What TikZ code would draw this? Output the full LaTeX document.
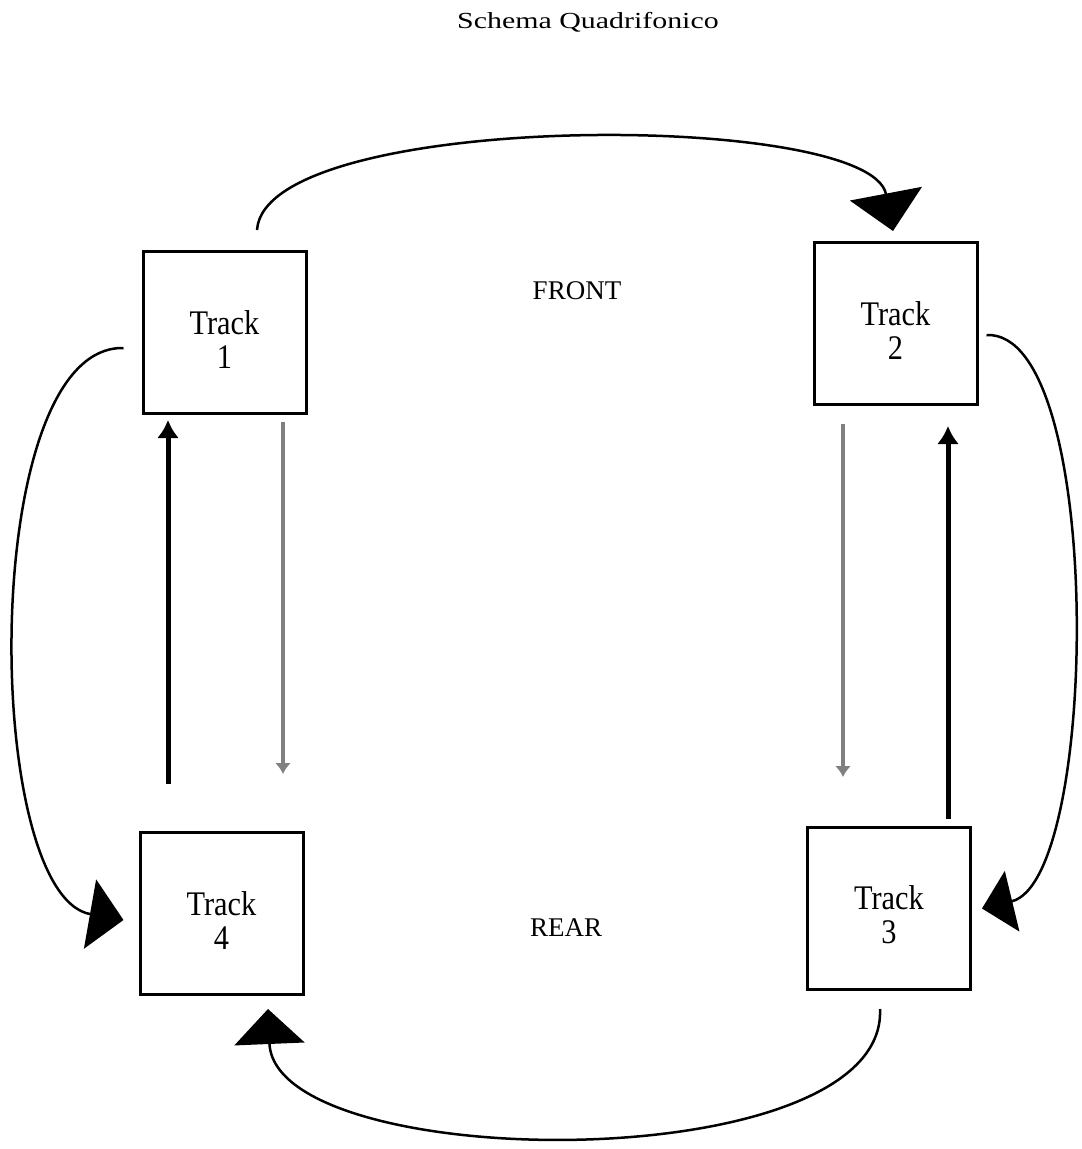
\documentclass[tikz,border=0pt]{standalone}
\usepackage{fontspec}
\setmainfont{Liberation Serif}
\newfontfamily\titlefont[FakeStretch=1.3]{Liberation Serif}
\newfontfamily\trackfont[FakeStretch=0.88]{Liberation Serif}
\usetikzlibrary{arrows.meta}
\newcommand{\tk}[1]{\rule{0pt}{37pt}Track\\#1}
\begin{document}
\begin{tikzpicture}[x=1pt,y=-1pt,
  trackbox/.style={draw=black,line width=3pt,fill=white,minimum width=163pt,minimum height=162pt,
    align=center,inner sep=0pt,font=\trackfont\fontsize{34.5}{34}\selectfont},
  lbl/.style={font=\fontsize{27}{30}\selectfont,inner sep=0pt},
  loopline/.style={line width=2.5pt,black},
  blackarrow/.style={line width=5pt,black,-{Latex[length=18pt,width=22pt]}},
  grayarrow/.style={line width=4.5pt,black!50,-{Latex[length=11pt,width=16pt]}}
]
\useasboundingbox (0,0) rectangle (1082,1149);

\node[font=\titlefont\fontsize{23}{26}\selectfont,inner sep=0pt] (title) at (588,22) {Schema Quadrifonico};

\node[trackbox] (t1) at (224.5,332.5) {\tk{1}};
\node[trackbox] (t2) at (895.5,323.5) {\tk{2}};
\node[trackbox] (t3) at (889,908.5) {\tk{3}};
\node[trackbox] (t4) at (221.5,913.5) {\tk{4}};

\node[lbl] (front) at (577,291) {FRONT};
\node[lbl] (rear) at (566,928) {REAR};

% vertical arrows
\draw[blackarrow] ([xshift=-53.5pt,yshift=47pt]t4.north) -- ([xshift=-56.5pt,yshift=-5pt]t1.south);
\draw[grayarrow] ([xshift=58.5pt,yshift=-7pt]t1.south) -- ([xshift=61.5pt,yshift=57pt]t4.north);
\draw[grayarrow] ([xshift=-52.5pt,yshift=-18pt]t2.south) -- ([xshift=-46pt,yshift=49pt]t3.north);
\draw[blackarrow] ([xshift=59pt,yshift=7pt]t3.north) -- ([xshift=52.5pt,yshift=-20pt]t2.south);

% loop curves
\draw[loopline,-{Triangle[length=38pt,width=73pt]}]
  ([xshift=32.5pt,yshift=20pt]t1.north) .. controls (265,110) and (870,110) .. ([xshift=-2.5pt,yshift=10pt]t2.north);
\draw[loopline,-{Triangle[length=31pt,width=62pt]}]
  ([xshift=8pt,yshift=-11.5pt]t2.east) .. controls (1105,330) and (1100,880) .. ([xshift=10pt]t3.east);
\draw[loopline,-{Triangle[length=35pt,width=70pt]}]
  ([xshift=-9pt,yshift=-18pt]t3.south) .. controls (888,1180) and (275,1175) .. ([xshift=46.5pt,yshift=-13pt]t4.south);
\draw[loopline,-{Triangle[length=34pt,width=70pt]}]
  ([xshift=-18pt,yshift=-15.5pt]t1.west) .. controls (-22,345) and (-18,895) .. ([xshift=-15pt,yshift=-6.5pt]t4.west);
\end{tikzpicture}
\end{document}
